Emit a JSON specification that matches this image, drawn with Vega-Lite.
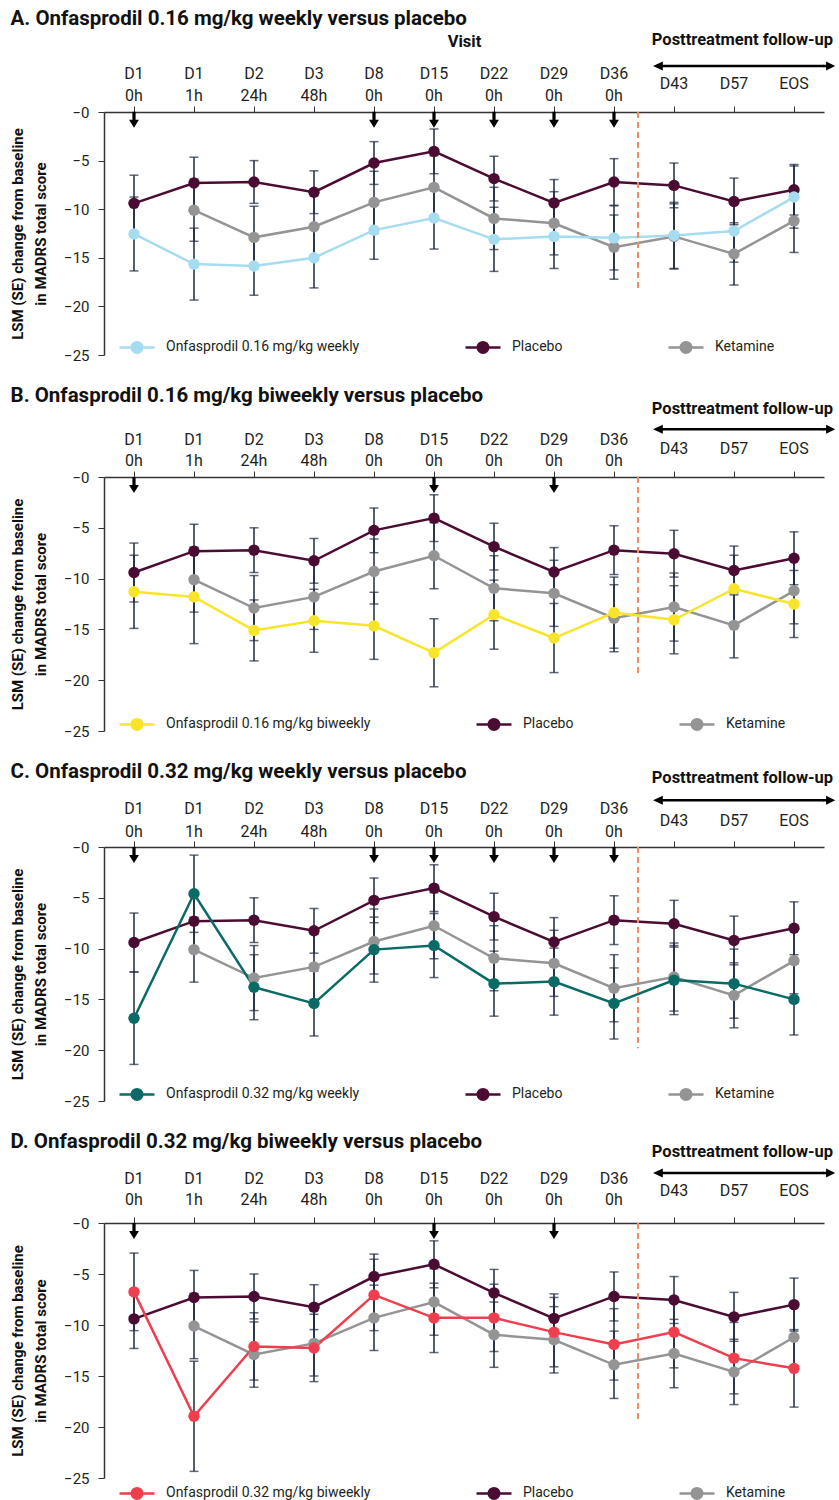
{
  "$schema": "https://vega.github.io/schema/vega-lite/v6.json",
  "padding": {"left": 10, "top": 8, "right": 0, "bottom": 0},
  "background": "white",
  "spacing": 23,
  "config": {
    "font": "Roboto",
    "view": {"stroke": null},
    "axis": {"grid": false, "labelFontSize": 15, "labelColor": "#231f20", "domainColor": "#333", "tickColor": "#333", "titleColor": "#111"},
    "title": {"anchor": "start", "frame": "bounds", "fontSize": 20.5, "fontWeight": "bold", "color": "#111"},
    "legend": {"orient": "none", "direction": "horizontal", "title": null, "padding": 0,
               "symbolType": "M-1,0 L-0.3,0 M0.3,0 L1,0 M0.3,0 A0.3,0.3 0 1,1 -0.3,0 A0.3,0.3 0 1,1 0.3,0 Z",
               "symbolSize": 1225, "symbolStrokeWidth": 2.5, "symbolOpacity": 1, "labelFontSize": 14, "labelColor": "#231f20", "labelOffset": 10, "columnPadding": 100, "labelLimit": 400}
  },
  "datasets": {
    "results": [
      {"panel": "all", "group": "Placebo", "visit": "D1 0h", "lsm": -9.4, "lower": -12.3, "upper": -6.5},
      {"panel": "all", "group": "Placebo", "visit": "D1 1h", "lsm": -7.3, "lower": -9.95, "upper": -4.65},
      {"panel": "all", "group": "Placebo", "visit": "D2 24h", "lsm": -7.2, "lower": -9.4, "upper": -5.0},
      {"panel": "all", "group": "Placebo", "visit": "D3 48h", "lsm": -8.25, "lower": -10.45, "upper": -6.05},
      {"panel": "all", "group": "Placebo", "visit": "D8 0h", "lsm": -5.25, "lower": -7.45, "upper": -3.05},
      {"panel": "all", "group": "Placebo", "visit": "D15 0h", "lsm": -4.05, "lower": -6.35, "upper": -1.75},
      {"panel": "all", "group": "Placebo", "visit": "D22 0h", "lsm": -6.85, "lower": -9.15, "upper": -4.55},
      {"panel": "all", "group": "Placebo", "visit": "D29 0h", "lsm": -9.35, "lower": -11.75, "upper": -6.95},
      {"panel": "all", "group": "Placebo", "visit": "D36 0h", "lsm": -7.2, "lower": -9.6, "upper": -4.8},
      {"panel": "all", "group": "Placebo", "visit": "D43", "lsm": -7.55, "lower": -9.85, "upper": -5.25},
      {"panel": "all", "group": "Placebo", "visit": "D57", "lsm": -9.2, "lower": -11.6, "upper": -6.8},
      {"panel": "all", "group": "Placebo", "visit": "EOS", "lsm": -8.0, "lower": -10.6, "upper": -5.4},
      {"panel": "all", "group": "Ketamine", "visit": "D1 1h", "lsm": -10.1, "lower": -13.3, "upper": -6.9},
      {"panel": "all", "group": "Ketamine", "visit": "D2 24h", "lsm": -12.9, "lower": -16.1, "upper": -9.7},
      {"panel": "all", "group": "Ketamine", "visit": "D3 48h", "lsm": -11.8, "lower": -15.0, "upper": -8.6},
      {"panel": "all", "group": "Ketamine", "visit": "D8 0h", "lsm": -9.3, "lower": -12.5, "upper": -6.1},
      {"panel": "all", "group": "Ketamine", "visit": "D15 0h", "lsm": -7.75, "lower": -11.0, "upper": -4.5},
      {"panel": "all", "group": "Ketamine", "visit": "D22 0h", "lsm": -10.95, "lower": -14.15, "upper": -7.75},
      {"panel": "all", "group": "Ketamine", "visit": "D29 0h", "lsm": -11.45, "lower": -14.7, "upper": -8.2},
      {"panel": "all", "group": "Ketamine", "visit": "D36 0h", "lsm": -13.9, "lower": -17.2, "upper": -10.6},
      {"panel": "all", "group": "Ketamine", "visit": "D43", "lsm": -12.8, "lower": -16.15, "upper": -9.45},
      {"panel": "all", "group": "Ketamine", "visit": "D57", "lsm": -14.6, "lower": -17.8, "upper": -11.4},
      {"panel": "all", "group": "Ketamine", "visit": "EOS", "lsm": -11.2, "lower": -14.45, "upper": -7.95},
      {"panel": "A", "group": "Onfasprodil 0.16 mg/kg weekly", "visit": "D1 0h", "lsm": -12.55, "lower": -16.35, "upper": -8.75},
      {"panel": "A", "group": "Onfasprodil 0.16 mg/kg weekly", "visit": "D1 1h", "lsm": -15.65, "lower": -19.35, "upper": -11.95},
      {"panel": "A", "group": "Onfasprodil 0.16 mg/kg weekly", "visit": "D2 24h", "lsm": -15.85, "lower": -18.85, "upper": -12.85},
      {"panel": "A", "group": "Onfasprodil 0.16 mg/kg weekly", "visit": "D3 48h", "lsm": -15.0, "lower": -18.1, "upper": -11.9},
      {"panel": "A", "group": "Onfasprodil 0.16 mg/kg weekly", "visit": "D8 0h", "lsm": -12.15, "lower": -15.15, "upper": -9.15},
      {"panel": "A", "group": "Onfasprodil 0.16 mg/kg weekly", "visit": "D15 0h", "lsm": -10.9, "lower": -14.1, "upper": -7.7},
      {"panel": "A", "group": "Onfasprodil 0.16 mg/kg weekly", "visit": "D22 0h", "lsm": -13.1, "lower": -16.4, "upper": -9.8},
      {"panel": "A", "group": "Onfasprodil 0.16 mg/kg weekly", "visit": "D29 0h", "lsm": -12.8, "lower": -16.1, "upper": -9.5},
      {"panel": "A", "group": "Onfasprodil 0.16 mg/kg weekly", "visit": "D36 0h", "lsm": -12.95, "lower": -16.25, "upper": -9.65},
      {"panel": "A", "group": "Onfasprodil 0.16 mg/kg weekly", "visit": "D43", "lsm": -12.7, "lower": -16.1, "upper": -9.3},
      {"panel": "A", "group": "Onfasprodil 0.16 mg/kg weekly", "visit": "D57", "lsm": -12.25, "lower": -15.45, "upper": -9.05},
      {"panel": "A", "group": "Onfasprodil 0.16 mg/kg weekly", "visit": "EOS", "lsm": -8.75, "lower": -11.95, "upper": -5.55},
      {"panel": "B", "group": "Onfasprodil 0.16 mg/kg biweekly", "visit": "D1 0h", "lsm": -11.3, "lower": -14.9, "upper": -7.7},
      {"panel": "B", "group": "Onfasprodil 0.16 mg/kg biweekly", "visit": "D1 1h", "lsm": -11.8, "lower": -16.4, "upper": -7.2},
      {"panel": "B", "group": "Onfasprodil 0.16 mg/kg biweekly", "visit": "D2 24h", "lsm": -15.1, "lower": -18.1, "upper": -12.1},
      {"panel": "B", "group": "Onfasprodil 0.16 mg/kg biweekly", "visit": "D3 48h", "lsm": -14.15, "lower": -17.25, "upper": -11.05},
      {"panel": "B", "group": "Onfasprodil 0.16 mg/kg biweekly", "visit": "D8 0h", "lsm": -14.65, "lower": -17.95, "upper": -11.35},
      {"panel": "B", "group": "Onfasprodil 0.16 mg/kg biweekly", "visit": "D15 0h", "lsm": -17.3, "lower": -20.65, "upper": -13.95},
      {"panel": "B", "group": "Onfasprodil 0.16 mg/kg biweekly", "visit": "D22 0h", "lsm": -13.55, "lower": -16.95, "upper": -10.15},
      {"panel": "B", "group": "Onfasprodil 0.16 mg/kg biweekly", "visit": "D29 0h", "lsm": -15.85, "lower": -19.25, "upper": -12.45},
      {"panel": "B", "group": "Onfasprodil 0.16 mg/kg biweekly", "visit": "D36 0h", "lsm": -13.35, "lower": -16.85, "upper": -9.85},
      {"panel": "B", "group": "Onfasprodil 0.16 mg/kg biweekly", "visit": "D43", "lsm": -14.05, "lower": -17.4, "upper": -10.7},
      {"panel": "B", "group": "Onfasprodil 0.16 mg/kg biweekly", "visit": "D57", "lsm": -11.0, "lower": -14.3, "upper": -7.7},
      {"panel": "B", "group": "Onfasprodil 0.16 mg/kg biweekly", "visit": "EOS", "lsm": -12.5, "lower": -15.8, "upper": -9.2},
      {"panel": "C", "group": "Onfasprodil 0.32 mg/kg weekly", "visit": "D1 0h", "lsm": -16.85, "lower": -21.4, "upper": -12.3},
      {"panel": "C", "group": "Onfasprodil 0.32 mg/kg weekly", "visit": "D1 1h", "lsm": -4.6, "lower": -8.4, "upper": -0.8},
      {"panel": "C", "group": "Onfasprodil 0.32 mg/kg weekly", "visit": "D2 24h", "lsm": -13.8, "lower": -17.0, "upper": -10.6},
      {"panel": "C", "group": "Onfasprodil 0.32 mg/kg weekly", "visit": "D3 48h", "lsm": -15.4, "lower": -18.6, "upper": -12.2},
      {"panel": "C", "group": "Onfasprodil 0.32 mg/kg weekly", "visit": "D8 0h", "lsm": -10.1, "lower": -13.3, "upper": -6.9},
      {"panel": "C", "group": "Onfasprodil 0.32 mg/kg weekly", "visit": "D15 0h", "lsm": -9.7, "lower": -12.85, "upper": -6.55},
      {"panel": "C", "group": "Onfasprodil 0.32 mg/kg weekly", "visit": "D22 0h", "lsm": -13.45, "lower": -16.65, "upper": -10.25},
      {"panel": "C", "group": "Onfasprodil 0.32 mg/kg weekly", "visit": "D29 0h", "lsm": -13.25, "lower": -16.55, "upper": -9.95},
      {"panel": "C", "group": "Onfasprodil 0.32 mg/kg weekly", "visit": "D36 0h", "lsm": -15.4, "lower": -18.9, "upper": -11.9},
      {"panel": "C", "group": "Onfasprodil 0.32 mg/kg weekly", "visit": "D43", "lsm": -13.1, "lower": -16.5, "upper": -9.7},
      {"panel": "C", "group": "Onfasprodil 0.32 mg/kg weekly", "visit": "D57", "lsm": -13.45, "lower": -16.85, "upper": -10.05},
      {"panel": "C", "group": "Onfasprodil 0.32 mg/kg weekly", "visit": "EOS", "lsm": -15.0, "lower": -18.5, "upper": -11.5},
      {"panel": "D", "group": "Onfasprodil 0.32 mg/kg biweekly", "visit": "D1 0h", "lsm": -6.75, "lower": -10.55, "upper": -2.95},
      {"panel": "D", "group": "Onfasprodil 0.32 mg/kg biweekly", "visit": "D1 1h", "lsm": -18.95, "lower": -24.35, "upper": -13.55},
      {"panel": "D", "group": "Onfasprodil 0.32 mg/kg biweekly", "visit": "D2 24h", "lsm": -12.1, "lower": -15.4, "upper": -8.8},
      {"panel": "D", "group": "Onfasprodil 0.32 mg/kg biweekly", "visit": "D3 48h", "lsm": -12.25, "lower": -15.55, "upper": -8.95},
      {"panel": "D", "group": "Onfasprodil 0.32 mg/kg biweekly", "visit": "D8 0h", "lsm": -7.05, "lower": -10.55, "upper": -3.55},
      {"panel": "D", "group": "Onfasprodil 0.32 mg/kg biweekly", "visit": "D15 0h", "lsm": -9.3, "lower": -12.7, "upper": -5.9},
      {"panel": "D", "group": "Onfasprodil 0.32 mg/kg biweekly", "visit": "D22 0h", "lsm": -9.3, "lower": -12.6, "upper": -6.0},
      {"panel": "D", "group": "Onfasprodil 0.32 mg/kg biweekly", "visit": "D29 0h", "lsm": -10.7, "lower": -14.1, "upper": -7.3},
      {"panel": "D", "group": "Onfasprodil 0.32 mg/kg biweekly", "visit": "D36 0h", "lsm": -11.9, "lower": -15.4, "upper": -8.4},
      {"panel": "D", "group": "Onfasprodil 0.32 mg/kg biweekly", "visit": "D43", "lsm": -10.7, "lower": -14.2, "upper": -7.2},
      {"panel": "D", "group": "Onfasprodil 0.32 mg/kg biweekly", "visit": "D57", "lsm": -13.25, "lower": -16.75, "upper": -9.75},
      {"panel": "D", "group": "Onfasprodil 0.32 mg/kg biweekly", "visit": "EOS", "lsm": -14.25, "lower": -18.05, "upper": -10.45}
    ],
    "doses": [
      {"panel": "A", "visit": "D1 0h"}, {"panel": "A", "visit": "D8 0h"}, {"panel": "A", "visit": "D15 0h"}, {"panel": "A", "visit": "D22 0h"}, {"panel": "A", "visit": "D29 0h"}, {"panel": "A", "visit": "D36 0h"},
      {"panel": "B", "visit": "D1 0h"}, {"panel": "B", "visit": "D15 0h"}, {"panel": "B", "visit": "D29 0h"},
      {"panel": "C", "visit": "D1 0h"}, {"panel": "C", "visit": "D8 0h"}, {"panel": "C", "visit": "D15 0h"}, {"panel": "C", "visit": "D22 0h"}, {"panel": "C", "visit": "D29 0h"}, {"panel": "C", "visit": "D36 0h"},
      {"panel": "D", "visit": "D1 0h"}, {"panel": "D", "visit": "D15 0h"}, {"panel": "D", "visit": "D29 0h"}
    ]
  },
  "resolve": {"scale": {"x": "independent", "y": "independent", "color": "independent", "stroke": "independent"}, "legend": {"color": "independent", "stroke": "independent"}},
  "vconcat": [
    {
      "width": 720, "height": 243,
      "title": {"text": "A. Onfasprodil 0.16 mg/kg weekly versus placebo", "offset": 3},
      "layer": [
        {"data": {"name": "results"}, "transform": [{"filter": "datum.panel == 'A' || datum.panel == 'all'"}],
         "mark": {"type": "errorbar", "color": "#1d2a3e", "thickness": 1.5, "ticks": {"size": 9}},
         "encoding": {
           "x": {"field": "visit", "type": "nominal", "sort": ["D1 0h","D1 1h","D2 24h","D3 48h","D8 0h","D15 0h","D22 0h","D29 0h","D36 0h","D43","D57","EOS"],
                 "scale": {"type": "band", "domain": ["D1 0h","D1 1h","D2 24h","D3 48h","D8 0h","D15 0h","D22 0h","D29 0h","D36 0h","D43","D57","EOS"], "paddingInner": 0, "paddingOuter": 0},
                 "axis": {"orient": "top", "title": "Visit", "titleFontWeight": "bold", "titleFontSize": 16.5, "titlePadding": 16, "labelExpr": "split(datum.label, ' ')", "labelBaseline": "middle", "labelLineHeight": 22, "labelFontSize": 16,
                          "labelPadding": {"condition": {"test": "indexof(datum.label, ' ') > 0", "value": 33}, "value": 23}, "tickSize": 6, "labelAngle": 0, "bandPosition": 0.5, "domainWidth": 1.5}},
           "y": {"field": "lower", "type": "quantitative", "scale": {"domain": [-25, 0], "nice": false, "zero": false},
                 "axis": {"values": [-25, -20, -15, -10, -5, 0], "labelExpr": "'−' + abs(datum.value)", "title": ["LSM (SE) change from baseline", "in MADRS total score"], "titleFontWeight": "bold", "titleFontSize": 15, "titleLineHeight": 23, "titlePadding": 15, "tickSize": 6, "labelPadding": 9, "domainWidth": 1.5}},
           "y2": {"field": "upper"}
         }},
        {"data": {"name": "results"}, "transform": [{"filter": "datum.panel == 'A' || datum.panel == 'all'"}],
         "mark": {"type": "line", "strokeWidth": 2.5},
         "encoding": {
           "x": {"field": "visit", "type": "nominal"},
           "y": {"field": "lsm", "type": "quantitative"},
           "stroke": {"field": "group", "type": "nominal", "scale": {"domain": ["Onfasprodil 0.16 mg/kg weekly", "Placebo", "Ketamine"], "range": ["#a6dcef", "#4b0c33", "#949494"]},
                      "legend": {"legendX": 14, "legendY": 216}}
         }},
        {"data": {"name": "results"}, "transform": [{"filter": "datum.panel == 'A' || datum.panel == 'all'"}],
         "mark": {"type": "point", "filled": true, "size": 130, "opacity": 1},
         "encoding": {
           "x": {"field": "visit", "type": "nominal"},
           "y": {"field": "lsm", "type": "quantitative"},
           "color": {"field": "group", "type": "nominal", "scale": {"domain": ["Onfasprodil 0.16 mg/kg weekly", "Placebo", "Ketamine"], "range": ["#a6dcef", "#4b0c33", "#949494"]},
                     "legend": {"legendX": 14, "legendY": 216}}
         }},
        {"data": {"name": "doses"}, "transform": [{"filter": "datum.panel == 'A'"}],
         "mark": {"type": "point", "shape": "M-0.2,-1 L0.2,-1 L0.2,0 L0.62,0 L0,1 L-0.62,0 L-0.2,0 Z", "size": 256, "filled": true, "color": "#000", "opacity": 1},
         "encoding": {"x": {"field": "visit", "type": "nominal"}, "y": {"datum": -0.8}}},
        {"data": {"values": [{}]},
         "mark": {"type": "rule", "color": "#f28b5e", "strokeDash": [6, 4], "strokeWidth": 2},
         "encoding": {"x": {"datum": "D36 0h", "bandPosition": 0.9}, "y": {"datum": 0}, "y2": {"datum": -18.3}}},
        {"data": {"values": [{}]},
         "mark": {"type": "rule", "color": "#000", "strokeWidth": 2.5},
         "encoding": {"x": {"datum": "D43", "bandPosition": 0.25}, "x2": {"datum": "EOS", "bandPosition": 1}, "y": {"datum": 4.73}}},
        {"data": {"values": [{}]},
         "mark": {"type": "point", "shape": "M0,0 L1.4,-0.65 L1.4,0.65 Z", "size": 196, "filled": true, "color": "#000", "opacity": 1},
         "encoding": {"x": {"datum": "D43", "bandPosition": 0.15}, "y": {"datum": 4.73}}},
        {"data": {"values": [{}]},
         "mark": {"type": "point", "shape": "M-0.1,-0.18 L0.3,-0.18 L0.3,-0.65 L1.6,0 L0.3,0.65 L0.3,0.18 L-0.1,0.18 Z", "size": 196, "filled": true, "color": "#000", "opacity": 1},
         "encoding": {"x": {"datum": "EOS", "bandPosition": 1}, "y": {"datum": 4.73}}},
        {"data": {"values": [{}]},
         "mark": {"type": "text", "text": "Posttreatment follow-up", "align": "left", "baseline": "middle", "fontWeight": "bold", "fontSize": 16.5, "color": "#111"},
         "encoding": {"x": {"datum": "D43", "bandPosition": 0.13}, "y": {"datum": 7.4}}}
      ]
    },
    {
      "width": 720, "height": 254,
      "title": {"text": "B. Onfasprodil 0.16 mg/kg biweekly versus placebo", "offset": -6},
      "layer": [
        {"data": {"name": "results"}, "transform": [{"filter": "datum.panel == 'B' || datum.panel == 'all'"}],
         "mark": {"type": "errorbar", "color": "#1d2a3e", "thickness": 1.5, "ticks": {"size": 9}},
         "encoding": {
           "x": {"field": "visit", "type": "nominal", "sort": ["D1 0h","D1 1h","D2 24h","D3 48h","D8 0h","D15 0h","D22 0h","D29 0h","D36 0h","D43","D57","EOS"],
                 "scale": {"type": "band", "domain": ["D1 0h","D1 1h","D2 24h","D3 48h","D8 0h","D15 0h","D22 0h","D29 0h","D36 0h","D43","D57","EOS"], "paddingInner": 0, "paddingOuter": 0},
                 "axis": {"orient": "top", "title": null, "labelExpr": "split(datum.label, ' ')", "labelBaseline": "middle", "labelLineHeight": 21, "labelFontSize": 16,
                          "labelPadding": {"condition": {"test": "indexof(datum.label, ' ') > 0", "value": 32}, "value": 23}, "tickSize": 6, "labelAngle": 0, "bandPosition": 0.5, "domainWidth": 1.5}},
           "y": {"field": "lower", "type": "quantitative", "scale": {"domain": [-25, 0], "nice": false, "zero": false},
                 "axis": {"values": [-25, -20, -15, -10, -5, 0], "labelExpr": "'−' + abs(datum.value)", "title": ["LSM (SE) change from baseline", "in MADRS total score"], "titleFontWeight": "bold", "titleFontSize": 15, "titleLineHeight": 23, "titlePadding": 15, "tickSize": 6, "labelPadding": 9, "domainWidth": 1.5}},
           "y2": {"field": "upper"}
         }},
        {"data": {"name": "results"}, "transform": [{"filter": "datum.panel == 'B' || datum.panel == 'all'"}],
         "mark": {"type": "line", "strokeWidth": 2.5},
         "encoding": {
           "x": {"field": "visit", "type": "nominal"},
           "y": {"field": "lsm", "type": "quantitative"},
           "stroke": {"field": "group", "type": "nominal", "scale": {"domain": ["Onfasprodil 0.16 mg/kg biweekly", "Placebo", "Ketamine"], "range": ["#f8e52b", "#4b0c33", "#949494"]},
                      "legend": {"legendX": 14, "legendY": 228}}
         }},
        {"data": {"name": "results"}, "transform": [{"filter": "datum.panel == 'B' || datum.panel == 'all'"}],
         "mark": {"type": "point", "filled": true, "size": 130, "opacity": 1},
         "encoding": {
           "x": {"field": "visit", "type": "nominal"},
           "y": {"field": "lsm", "type": "quantitative"},
           "color": {"field": "group", "type": "nominal", "scale": {"domain": ["Onfasprodil 0.16 mg/kg biweekly", "Placebo", "Ketamine"], "range": ["#f8e52b", "#4b0c33", "#949494"]},
                     "legend": {"legendX": 14, "legendY": 228}}
         }},
        {"data": {"name": "doses"}, "transform": [{"filter": "datum.panel == 'B'"}],
         "mark": {"type": "point", "shape": "M-0.2,-1 L0.2,-1 L0.2,0 L0.62,0 L0,1 L-0.62,0 L-0.2,0 Z", "size": 256, "filled": true, "color": "#000", "opacity": 1},
         "encoding": {"x": {"field": "visit", "type": "nominal"}, "y": {"datum": -0.78}}},
        {"data": {"values": [{}]},
         "mark": {"type": "rule", "color": "#f28b5e", "strokeDash": [6, 4], "strokeWidth": 2},
         "encoding": {"x": {"datum": "D36 0h", "bandPosition": 0.9}, "y": {"datum": 0}, "y2": {"datum": -19.5}}},
        {"data": {"values": [{}]},
         "mark": {"type": "rule", "color": "#000", "strokeWidth": 2.5},
         "encoding": {"x": {"datum": "D43", "bandPosition": 0.25}, "x2": {"datum": "EOS", "bandPosition": 1}, "y": {"datum": 4.7}}},
        {"data": {"values": [{}]},
         "mark": {"type": "point", "shape": "M0,0 L1.4,-0.65 L1.4,0.65 Z", "size": 196, "filled": true, "color": "#000", "opacity": 1},
         "encoding": {"x": {"datum": "D43", "bandPosition": 0.15}, "y": {"datum": 4.7}}},
        {"data": {"values": [{}]},
         "mark": {"type": "point", "shape": "M-0.1,-0.18 L0.3,-0.18 L0.3,-0.65 L1.6,0 L0.3,0.65 L0.3,0.18 L-0.1,0.18 Z", "size": 196, "filled": true, "color": "#000", "opacity": 1},
         "encoding": {"x": {"datum": "EOS", "bandPosition": 1}, "y": {"datum": 4.7}}},
        {"data": {"values": [{}]},
         "mark": {"type": "text", "text": "Posttreatment follow-up", "align": "left", "baseline": "middle", "fontWeight": "bold", "fontSize": 16.5, "color": "#111"},
         "encoding": {"x": {"datum": "D43", "bandPosition": 0.13}, "y": {"datum": 6.7}}}
      ]
    },
    {
      "width": 720, "height": 254,
      "title": {"text": "C. Onfasprodil 0.32 mg/kg weekly versus placebo", "offset": -13},
      "layer": [
        {"data": {"name": "results"}, "transform": [{"filter": "datum.panel == 'C' || datum.panel == 'all'"}],
         "mark": {"type": "errorbar", "color": "#1d2a3e", "thickness": 1.5, "ticks": {"size": 9}},
         "encoding": {
           "x": {"field": "visit", "type": "nominal", "sort": ["D1 0h","D1 1h","D2 24h","D3 48h","D8 0h","D15 0h","D22 0h","D29 0h","D36 0h","D43","D57","EOS"],
                 "scale": {"type": "band", "domain": ["D1 0h","D1 1h","D2 24h","D3 48h","D8 0h","D15 0h","D22 0h","D29 0h","D36 0h","D43","D57","EOS"], "paddingInner": 0, "paddingOuter": 0},
                 "axis": {"orient": "top", "title": null, "labelExpr": "split(datum.label, ' ')", "labelBaseline": "middle", "labelLineHeight": 23, "labelFontSize": 16,
                          "labelPadding": {"condition": {"test": "indexof(datum.label, ' ') > 0", "value": 33}, "value": 21}, "tickSize": 6, "labelAngle": 0, "bandPosition": 0.5, "domainWidth": 1.5}},
           "y": {"field": "lower", "type": "quantitative", "scale": {"domain": [-25, 0], "nice": false, "zero": false},
                 "axis": {"values": [-25, -20, -15, -10, -5, 0], "labelExpr": "'−' + abs(datum.value)", "title": ["LSM (SE) change from baseline", "in MADRS total score"], "titleFontWeight": "bold", "titleFontSize": 15, "titleLineHeight": 23, "titlePadding": 15, "tickSize": 6, "labelPadding": 9, "domainWidth": 1.5}},
           "y2": {"field": "upper"}
         }},
        {"data": {"name": "results"}, "transform": [{"filter": "datum.panel == 'C' || datum.panel == 'all'"}],
         "mark": {"type": "line", "strokeWidth": 2.5},
         "encoding": {
           "x": {"field": "visit", "type": "nominal"},
           "y": {"field": "lsm", "type": "quantitative"},
           "stroke": {"field": "group", "type": "nominal", "scale": {"domain": ["Onfasprodil 0.32 mg/kg weekly", "Placebo", "Ketamine"], "range": ["#0a6b66", "#4b0c33", "#949494"]},
                      "legend": {"legendX": 14, "legendY": 228}}
         }},
        {"data": {"name": "results"}, "transform": [{"filter": "datum.panel == 'C' || datum.panel == 'all'"}],
         "mark": {"type": "point", "filled": true, "size": 130, "opacity": 1},
         "encoding": {
           "x": {"field": "visit", "type": "nominal"},
           "y": {"field": "lsm", "type": "quantitative"},
           "color": {"field": "group", "type": "nominal", "scale": {"domain": ["Onfasprodil 0.32 mg/kg weekly", "Placebo", "Ketamine"], "range": ["#0a6b66", "#4b0c33", "#949494"]},
                     "legend": {"legendX": 14, "legendY": 228}}
         }},
        {"data": {"name": "doses"}, "transform": [{"filter": "datum.panel == 'C'"}],
         "mark": {"type": "point", "shape": "M-0.2,-1 L0.2,-1 L0.2,0 L0.62,0 L0,1 L-0.62,0 L-0.2,0 Z", "size": 256, "filled": true, "color": "#000", "opacity": 1},
         "encoding": {"x": {"field": "visit", "type": "nominal"}, "y": {"datum": -0.78}}},
        {"data": {"values": [{}]},
         "mark": {"type": "rule", "color": "#f28b5e", "strokeDash": [6, 4], "strokeWidth": 2},
         "encoding": {"x": {"datum": "D36 0h", "bandPosition": 0.9}, "y": {"datum": 0}, "y2": {"datum": -19.8}}},
        {"data": {"values": [{}]},
         "mark": {"type": "rule", "color": "#000", "strokeWidth": 2.5},
         "encoding": {"x": {"datum": "D43", "bandPosition": 0.25}, "x2": {"datum": "EOS", "bandPosition": 1}, "y": {"datum": 4.6}}},
        {"data": {"values": [{}]},
         "mark": {"type": "point", "shape": "M0,0 L1.4,-0.65 L1.4,0.65 Z", "size": 196, "filled": true, "color": "#000", "opacity": 1},
         "encoding": {"x": {"datum": "D43", "bandPosition": 0.15}, "y": {"datum": 4.6}}},
        {"data": {"values": [{}]},
         "mark": {"type": "point", "shape": "M-0.1,-0.18 L0.3,-0.18 L0.3,-0.65 L1.6,0 L0.3,0.65 L0.3,0.18 L-0.1,0.18 Z", "size": 196, "filled": true, "color": "#000", "opacity": 1},
         "encoding": {"x": {"datum": "EOS", "bandPosition": 1}, "y": {"datum": 4.6}}},
        {"data": {"values": [{}]},
         "mark": {"type": "text", "text": "Posttreatment follow-up", "align": "left", "baseline": "middle", "fontWeight": "bold", "fontSize": 16.5, "color": "#111"},
         "encoding": {"x": {"datum": "D43", "bandPosition": 0.13}, "y": {"datum": 6.8}}}
      ]
    },
    {
      "width": 720, "height": 255,
      "title": {"text": "D. Onfasprodil 0.32 mg/kg biweekly versus placebo", "offset": -9},
      "layer": [
        {"data": {"name": "results"}, "transform": [{"filter": "datum.panel == 'D' || datum.panel == 'all'"}],
         "mark": {"type": "errorbar", "color": "#1d2a3e", "thickness": 1.5, "ticks": {"size": 9}},
         "encoding": {
           "x": {"field": "visit", "type": "nominal", "sort": ["D1 0h","D1 1h","D2 24h","D3 48h","D8 0h","D15 0h","D22 0h","D29 0h","D36 0h","D43","D57","EOS"],
                 "scale": {"type": "band", "domain": ["D1 0h","D1 1h","D2 24h","D3 48h","D8 0h","D15 0h","D22 0h","D29 0h","D36 0h","D43","D57","EOS"], "paddingInner": 0, "paddingOuter": 0},
                 "axis": {"orient": "top", "title": null, "labelExpr": "split(datum.label, ' ')", "labelBaseline": "middle", "labelLineHeight": 21, "labelFontSize": 16,
                          "labelPadding": {"condition": {"test": "indexof(datum.label, ' ') > 0", "value": 39}, "value": 27}, "tickSize": 6, "labelAngle": 0, "bandPosition": 0.5, "domainWidth": 1.5}},
           "y": {"field": "lower", "type": "quantitative", "scale": {"domain": [-25, 0], "nice": false, "zero": false},
                 "axis": {"values": [-25, -20, -15, -10, -5, 0], "labelExpr": "'−' + abs(datum.value)", "title": ["LSM (SE) change from baseline", "in MADRS total score"], "titleFontWeight": "bold", "titleFontSize": 15, "titleLineHeight": 23, "titlePadding": 15, "tickSize": 6, "labelPadding": 9, "domainWidth": 1.5}},
           "y2": {"field": "upper"}
         }},
        {"data": {"name": "results"}, "transform": [{"filter": "datum.panel == 'D' || datum.panel == 'all'"}],
         "mark": {"type": "line", "strokeWidth": 2.5},
         "encoding": {
           "x": {"field": "visit", "type": "nominal"},
           "y": {"field": "lsm", "type": "quantitative"},
           "stroke": {"field": "group", "type": "nominal", "scale": {"domain": ["Onfasprodil 0.32 mg/kg biweekly", "Placebo", "Ketamine"], "range": ["#ef3e4d", "#4b0c33", "#949494"]},
                      "legend": {"legendX": 14, "legendY": 251}}
         }},
        {"data": {"name": "results"}, "transform": [{"filter": "datum.panel == 'D' || datum.panel == 'all'"}],
         "mark": {"type": "point", "filled": true, "size": 130, "opacity": 1},
         "encoding": {
           "x": {"field": "visit", "type": "nominal"},
           "y": {"field": "lsm", "type": "quantitative"},
           "color": {"field": "group", "type": "nominal", "scale": {"domain": ["Onfasprodil 0.32 mg/kg biweekly", "Placebo", "Ketamine"], "range": ["#ef3e4d", "#4b0c33", "#949494"]},
                     "legend": {"legendX": 14, "legendY": 251}}
         }},
        {"data": {"name": "doses"}, "transform": [{"filter": "datum.panel == 'D'"}],
         "mark": {"type": "point", "shape": "M-0.2,-1 L0.2,-1 L0.2,0 L0.62,0 L0,1 L-0.62,0 L-0.2,0 Z", "size": 256, "filled": true, "color": "#000", "opacity": 1},
         "encoding": {"x": {"field": "visit", "type": "nominal"}, "y": {"datum": -0.78}}},
        {"data": {"values": [{}]},
         "mark": {"type": "rule", "color": "#f28b5e", "strokeDash": [6, 4], "strokeWidth": 2},
         "encoding": {"x": {"datum": "D36 0h", "bandPosition": 0.9}, "y": {"datum": 0}, "y2": {"datum": -19.5}}},
        {"data": {"values": [{}]},
         "mark": {"type": "rule", "color": "#000", "strokeWidth": 2.5},
         "encoding": {"x": {"datum": "D43", "bandPosition": 0.25}, "x2": {"datum": "EOS", "bandPosition": 1}, "y": {"datum": 4.9}}},
        {"data": {"values": [{}]},
         "mark": {"type": "point", "shape": "M0,0 L1.4,-0.65 L1.4,0.65 Z", "size": 196, "filled": true, "color": "#000", "opacity": 1},
         "encoding": {"x": {"datum": "D43", "bandPosition": 0.15}, "y": {"datum": 4.9}}},
        {"data": {"values": [{}]},
         "mark": {"type": "point", "shape": "M-0.1,-0.18 L0.3,-0.18 L0.3,-0.65 L1.6,0 L0.3,0.65 L0.3,0.18 L-0.1,0.18 Z", "size": 196, "filled": true, "color": "#000", "opacity": 1},
         "encoding": {"x": {"datum": "EOS", "bandPosition": 1}, "y": {"datum": 4.9}}},
        {"data": {"values": [{}]},
         "mark": {"type": "text", "text": "Posttreatment follow-up", "align": "left", "baseline": "middle", "fontWeight": "bold", "fontSize": 16.5, "color": "#111"},
         "encoding": {"x": {"datum": "D43", "bandPosition": 0.13}, "y": {"datum": 7.0}}}
      ]
    }
  ]
}
